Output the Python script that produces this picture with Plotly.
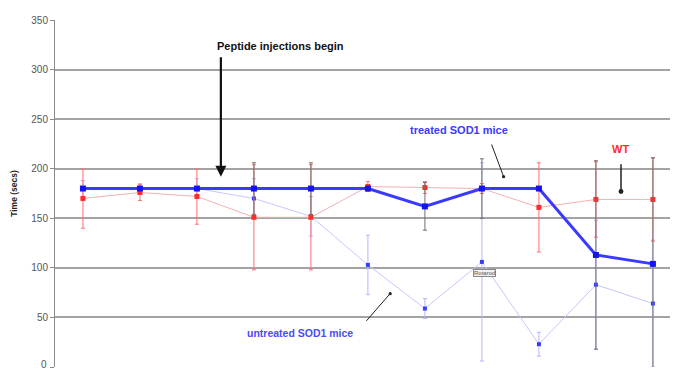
import plotly.graph_objects as go

weeks = [1, 2, 3, 4, 5, 6, 7, 8, 9, 10, 11]

treated = [180, 180, 180, 180, 180, 180, 162, 180, 180, 113, 104]
treated_err = [0, 0, 0, 26, 26, 0, 24, 30, 0, 95, 107]

wt = [170, 176, 172, 151, 151, 182, 181, 180, 161, 169, 169]
wt_err = [30, 8, 28, 53, 53, 5, 6, 5, 45, 38, 42]

untreated = [180, 180, 180, 170, 152, 103, 59, 106, 23, 83, 64]
untreated_err = [8, 5, 10, 20, 20, 30, 10, 100, 12, 65, 64]

y_ticks = [0, 50, 100, 150, 200, 250, 300, 350]

fig = go.Figure()

fig.add_trace(go.Scatter(
    x=weeks, y=untreated, mode="lines+markers", name="untreated SOD1 mice",
    line=dict(color="#c4c8ff", width=1),
    marker=dict(symbol="square", size=4, color="#3a3aff"),
    error_y=dict(type="data", array=untreated_err, visible=True,
                 color="#b0b6ff", thickness=1, width=2),
))

fig.add_trace(go.Scatter(
    x=weeks, y=wt, mode="lines+markers", name="WT",
    line=dict(color="#f6b0b0", width=1),
    marker=dict(symbol="square", size=5, color="#ff2a2a"),
    error_y=dict(type="data", array=wt_err, visible=True,
                 color="#ff7070", thickness=1, width=2),
))

fig.add_trace(go.Scatter(
    x=weeks, y=treated, mode="lines+markers", name="treated SOD1 mice",
    line=dict(color="#3a3aff", width=3),
    marker=dict(symbol="square", size=6, color="#1414f0"),
    error_y=dict(type="data", array=treated_err, visible=True,
                 color="#707070", thickness=1, width=2),
))

font_main = "Liberation Sans, Arial, sans-serif"

annotations = [
    dict(x=4.46, y=324, xref="x", yref="y", text="<b>Peptide injections begin</b>",
         showarrow=False, font=dict(size=11, color="#111111", family=font_main)),
    dict(x=3.42, y=192, ax=3.42, ay=314, xref="x", yref="y", axref="x", ayref="y",
         text="", showarrow=True, arrowhead=2, arrowsize=1, arrowwidth=2.2,
         arrowcolor="#111111"),
    dict(x=7.6, y=239, xref="x", yref="y", text="<b>treated SOD1 mice</b>",
         showarrow=False, font=dict(size=11, color="#3a3aff", family=font_main)),
    dict(x=8.38, y=192, ax=8.16, ay=226, xref="x", yref="y", axref="x", ayref="y",
         text="", showarrow=True, arrowhead=6, arrowsize=0.8, arrowwidth=1,
         arrowcolor="#222222"),
    dict(x=10.43, y=220, xref="x", yref="y", text="<b>WT</b>",
         showarrow=False, font=dict(size=11, color="#ff2a2a", family=font_main)),
    dict(x=10.44, y=177, ax=10.44, ay=206, xref="x", yref="y", axref="x", ayref="y",
         text="", showarrow=True, arrowhead=6, arrowsize=0.8, arrowwidth=1.5,
         arrowcolor="#222222"),
    dict(x=4.8, y=34, xref="x", yref="y", text="<b>untreated SOD1 mice</b>",
         showarrow=False, font=dict(size=10.5, color="#4a4aff", family=font_main)),
    dict(x=6.39, y=74, ax=5.95, ay=45, xref="x", yref="y", axref="x", ayref="y",
         text="", showarrow=True, arrowhead=6, arrowsize=0.8, arrowwidth=1,
         arrowcolor="#222222"),
    dict(x=8.05, y=95, xref="x", yref="y", text="Rotarod",
         showarrow=False, font=dict(size=6, color="#555555", family=font_main),
         bordercolor="#888888", borderwidth=1, borderpad=0, bgcolor="#f2f2f2"),
    # bottom "0" tick label (the axis sits at the very bottom edge)
    dict(x=0, y=y_ticks[0], xref="paper", yref="y", text=str(y_ticks[0]),
         xanchor="right", yanchor="bottom", xshift=-6, yshift=-5, showarrow=False,
         font=dict(size=10, color="#555555", family=font_main)),
]

# The page body has an 8px default margin, so the figure is drawn 8px
# smaller and the margins are reduced accordingly.
fig.update_layout(
    width=670, height=362,
    margin=dict(l=47, r=0, t=12, b=3, autoexpand=False),
    paper_bgcolor="white", plot_bgcolor="white",
    showlegend=False,
    annotations=annotations,
    font=dict(family=font_main),
)

fig.update_xaxes(
    range=[0.51, 11.44], showgrid=False, showticklabels=False, zeroline=False,
    showline=False, ticks="",
)

fig.update_yaxes(
    range=[0, 350], tickvals=y_ticks, showgrid=True, gridcolor="#a3a3a3",
    gridwidth=1.5, zeroline=False, showline=True, linecolor="#8a8a8a", linewidth=1,
    ticks="outside", ticklen=4, tickcolor="#8a8a8a", automargin=False,
    tickfont=dict(size=10, color="#555555", family=font_main),
    title=dict(text="<b>Time (secs)</b>", font=dict(size=8.5, color="#222222", family=font_main),
               standoff=12),
)

fig.write_html("out.html")
